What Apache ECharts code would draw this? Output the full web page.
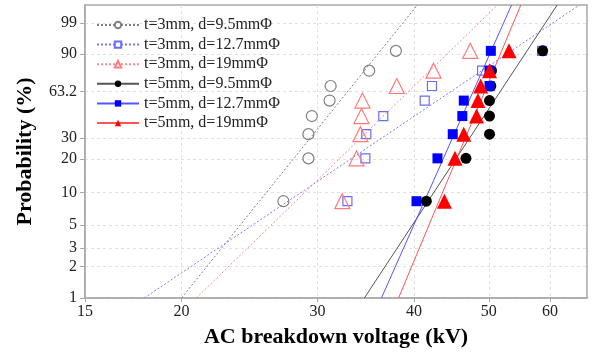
<!DOCTYPE html>
<html>
<head>
<meta charset="utf-8">
<script src="https://cdn.jsdelivr.net/npm/echarts@6/dist/echarts.min.js"></script>
<style>html,body{margin:0;padding:0;background:#fff}#c{width:596px;height:353px}</style>
</head>
<body>
<div id="c"></div>
<script>
// ---- data ----
const seriesNames = ['t=3mm, d=9.5mmΦ','t=3mm, d=12.7mmΦ','t=3mm, d=19mmΦ','t=5mm, d=9.5mmΦ','t=5mm, d=12.7mmΦ','t=5mm, d=19mmΦ'];
const xTicks = [15, 20, 30, 40, 50, 60];
const yTicks = [1, 2, 3, 5, 10, 20, 30, 63.2, 90, 99];
const probLevels = [8.33, 20.24, 32.14, 44.05, 55.95, 67.86, 79.76, 91.67]; // cumulative probability (%)
const t3_d95  = [27.1, 29.2, 29.2, 29.5, 31.1, 31.2, 35.0, 37.9];
const t3_d127 = [32.8, 34.6, 34.7, 36.5, 41.3, 42.2, 49.0, 58.6];
const t3_d19  = [32.3, 33.7, 34.1, 34.2, 34.3, 38.0, 42.4, 47.3];
const t5_d95  = [41.5, 46.7, 50.1, 50.1, 50.1, 50.3, 50.4, 58.7];
const t5_d127 = [40.3, 42.9, 44.9, 46.2, 46.4, 50.1, 50.1, 50.3];
const t5_d19  = [43.8, 45.2, 46.4, 48.2, 48.4, 48.8, 50.1, 53.1];
// fitted Weibull lines: voltage (kV) at 1 % and at 99.9 %
const fitProb = [1, 99.9];
const fitLow  = [20.0, 17.9, 20.9, 34.5, 36.3, 38.2];
const fitHigh = [40.4, 65.5, 51.3, 61.3, 53.5, 55.0];

// ---- styles ----
const styles = [
  {sym:'circle',   size:11, filled:false, color:'#808080', line:'#808080', dash:[2,2]},
  {sym:'rect',     size:9,  filled:false, color:'#6b6bff', line:'#7a7aff', dash:[2,2]},
  {sym:'triangle', size:15, filled:false, color:'#ff7b7b', line:'#ff8a8a', dash:[2,2]},
  {sym:'circle',   size:11, filled:true,  color:'#000000', line:'#555555', dash:'solid'},
  {sym:'rect',     size:10, filled:true,  color:'#0000ff', line:'#5555ff', dash:'solid'},
  {sym:'triangle', size:15, filled:true,  color:'#ff0000', line:'#ff5555', dash:'solid'}
];
const allData = [t3_d95, t3_d127, t3_d19, t5_d95, t5_d127, t5_d19];

// Weibull probability scale and log voltage scale
const wb = p => Math.log(-Math.log(1 - p / 100));
const lx = v => Math.log(v);

const series = [];
seriesNames.forEach((name, i) => {
  const s = styles[i];
  series.push({
    name, type:'line', z:2,
    data: fitProb.map((p, k) => [lx(k === 0 ? fitLow[i] : fitHigh[i]), wb(p)]),
    symbol: s.sym, symbolSize: 6, showSymbol:false, silent:true,
    lineStyle:{color:s.line, width:1, type:s.dash},
    itemStyle: s.filled ? {color:s.color} : {color:'#fff', borderColor:s.color, borderWidth:1},
    clip:true
  });
});
seriesNames.forEach((name, i) => {
  const s = styles[i];
  series.push({
    name, type:'scatter', z:3,
    symbol:s.sym, symbolSize:s.size,
    data: allData[i].map((v, k) => [lx(v), wb(probLevels[k])]),
    itemStyle: s.filled ? {color:s.color, opacity:1} : {color:'rgba(0,0,0,0)', borderColor:s.color, borderWidth:1.2, opacity:1}
  });
});

const nearest = (arr, val, f) => arr.reduce((a, b) => Math.abs(f(b) - val) < Math.abs(f(a) - val) ? b : a);

const chart = echarts.init(document.getElementById('c'), null, {renderer:'canvas'});
chart.setOption({
  animation:false,
  backgroundColor:'#fff',
  textStyle:{fontFamily:'Liberation Serif'},
  grid:{left:85, right:9, top:5, bottom:51, show:true, borderColor:'#a8a8a8', borderWidth:1.5, backgroundColor:'transparent'},
  legend:{
    data: seriesNames, orient:'vertical', left:91, top:12,
    itemWidth:42, itemHeight:8, itemGap:3.6,
    textStyle:{fontFamily:'Liberation Serif', fontSize:16, color:'#222'}
  },
  xAxis:{
    type:'value', min:lx(15), max:lx(67),
    name:'AC breakdown voltage (kV)', nameLocation:'middle', nameGap:28,
    nameTextStyle:{fontFamily:'Liberation Serif', fontSize:22, fontWeight:'bold', color:'#000'},
    axisLine:{show:true, onZero:false, lineStyle:{color:'#a8a8a8', width:1.5}},
    axisTick:{show:true, length:4, lineStyle:{color:'#a8a8a8'}, customValues: xTicks.map(lx)},
    axisLabel:{customValues: xTicks.map(lx), fontSize:16, color:'#222', margin:6,
      formatter: v => String(nearest(xTicks, v, lx))},
    splitLine:{show:true, lineStyle:{color:'#e0e0e0', type:[3,3], width:1}}
  },
  yAxis:{
    type:'value', min:wb(1), max:wb(99.9),
    name:'Probability (%)', nameLocation:'middle', nameGap:49,
    nameTextStyle:{fontFamily:'Liberation Serif', fontSize:22, fontWeight:'bold', color:'#000'},
    axisLine:{show:true, onZero:false, lineStyle:{color:'#a8a8a8', width:1.5}},
    axisTick:{show:true, length:5, lineStyle:{color:'#a8a8a8'}, customValues: yTicks.map(wb)},
    axisLabel:{customValues: yTicks.map(wb), fontSize:16, color:'#222', margin:8,
      formatter: v => String(nearest(yTicks, v, wb))},
    splitLine:{show:true, lineStyle:{color:'#e0e0e0', type:[3,3], width:1}}
  },
  series
});
</script>
</body>
</html>
